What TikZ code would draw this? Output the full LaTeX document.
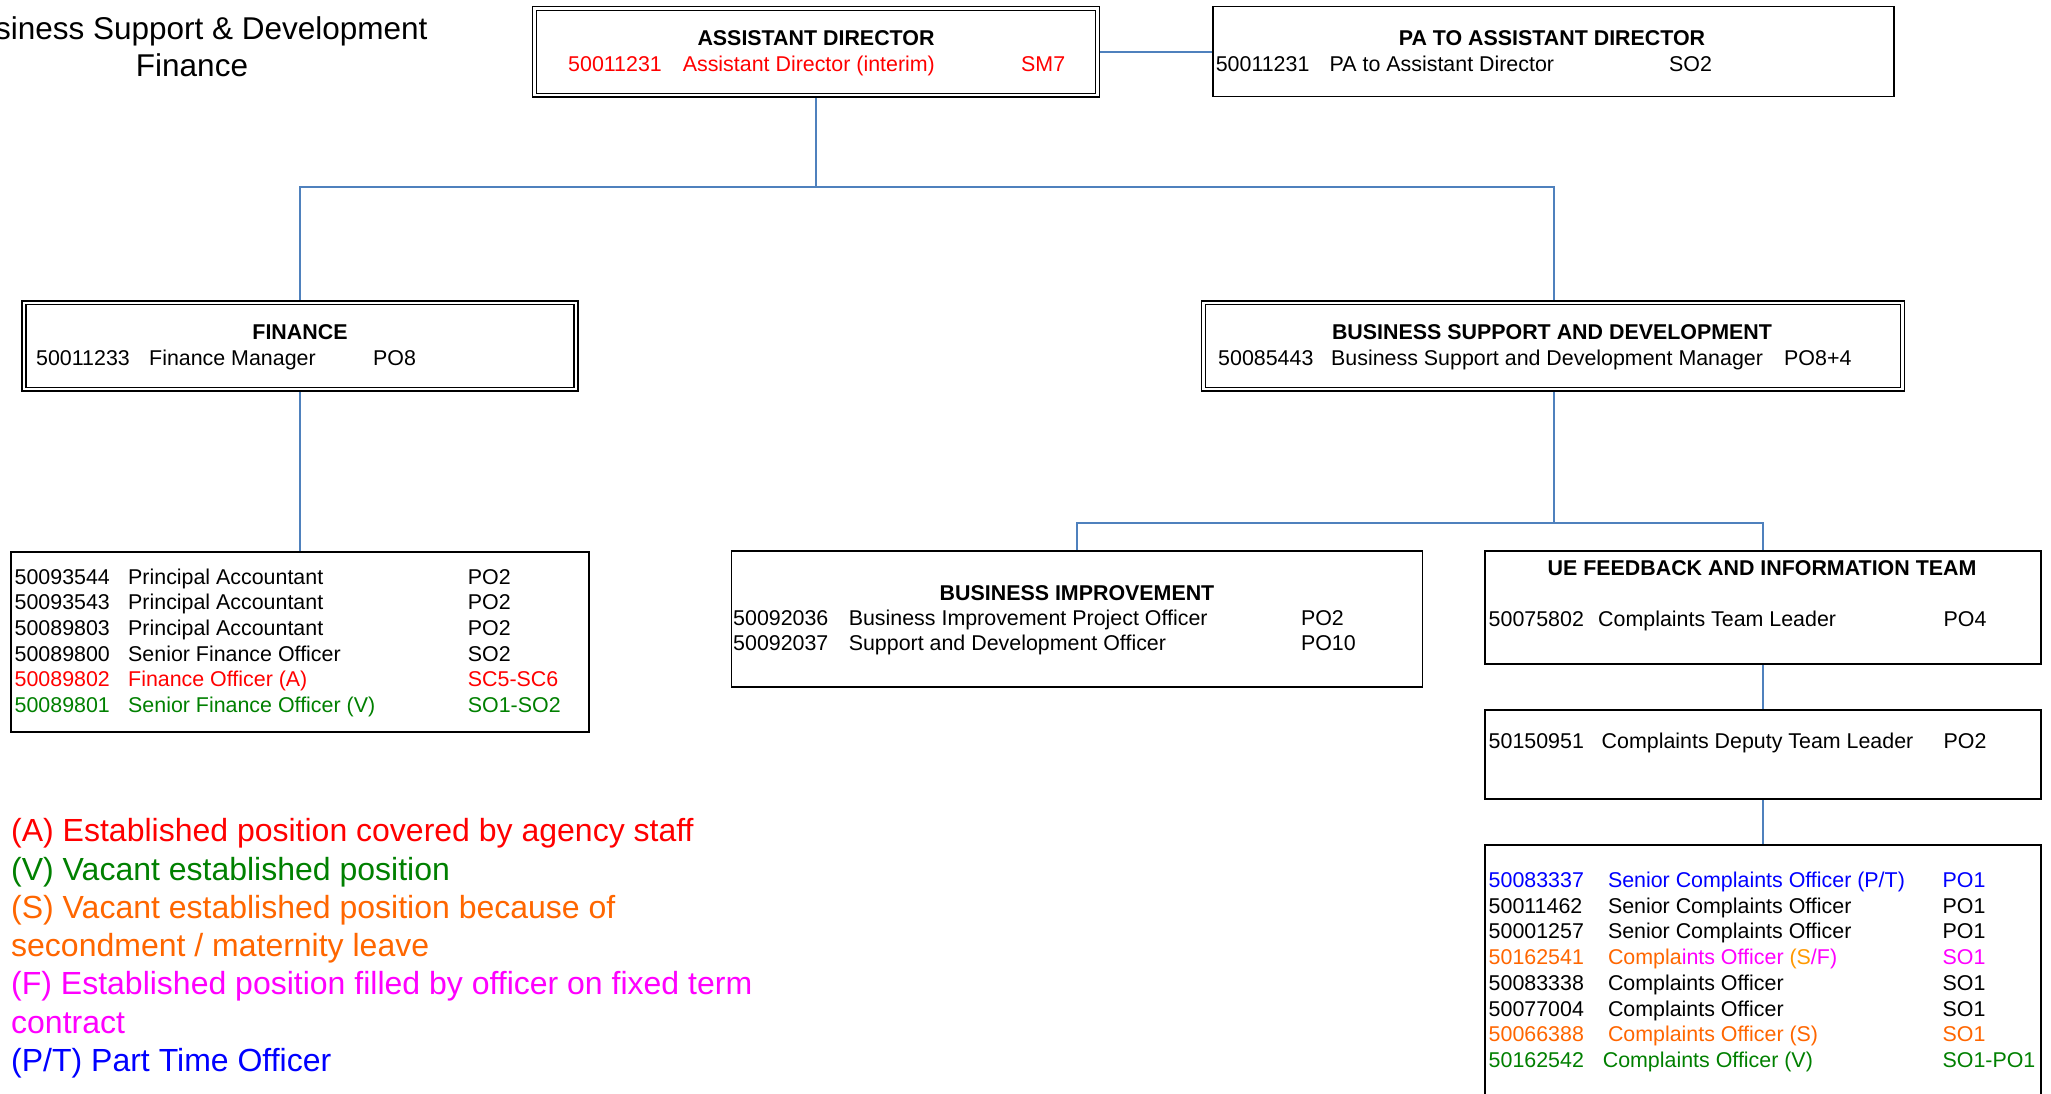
\documentclass[tikz,border=0pt]{standalone}
\usepackage{fontspec}
\setmainfont{Liberation Sans}
\definecolor{linkblue}{RGB}{79,129,189}
\definecolor{agred}{RGB}{255,0,0}
\definecolor{vgreen}{RGB}{0,128,0}
\definecolor{sorange}{RGB}{255,102,0}
\definecolor{lorange}{RGB}{255,153,0}
\definecolor{fmag}{RGB}{255,0,255}
\definecolor{ptblue}{RGB}{0,0,255}
\newcommand{\orgbody}{\fontsize{21.4}{25.7}\selectfont}
\newcommand{\orglegend}{\fontsize{32}{38.3}\selectfont}
\newcommand{\orgtitle}{\fontsize{31.5}{36.5}\selectfont}
\newcommand{\orgrow}[9]{%
  \node[txt,#2] (#1a) at (#3,#4) {#7};
  \node[txt,#2] (#1b) at (#5,#4) {#8};
  \node[txt,#2] (#1c) at (#6,#4) {#9};}
\begin{document}
\begin{tikzpicture}[x=1pt,y=-1pt,
  box/.style={draw=black, line width=1.8pt, inner sep=0pt, fill=white},
  txt/.style={anchor=base west, inner sep=0pt, font=\orgbody},
  head/.style={anchor=base, inner sep=0pt, font=\orgbody\bfseries},
  leg/.style={anchor=base west, inner sep=0pt, font=\orglegend},
  link/.style={draw=linkblue, line width=1.6pt}]
\useasboundingbox (0,0) rectangle (2051,1093);
\clip (0,0) rectangle (2051,1093);

% title
\node[anchor=base, inner sep=0pt, font=\orgtitle] (t1) at (192,39.5) {Business Support \& Development};
\node[anchor=base, inner sep=0pt, font=\orgtitle] (t2) at (192,76) {Finance};

% connectors (drawn first)
\coordinate (j1) at (816,187);
\coordinate (j2) at (1554,522.7);
\coordinate (finx) at (300,0);
\coordinate (bsdx) at (1554,0);
\coordinate (bix) at (1077,0);
\coordinate (uex) at (1762.7,0);
\draw[link] (816,97) -- (j1);
\draw[link] (finx |- 301,301) -- (finx |- j1) -- (bsdx |- j1) -- (bsdx |- 301,301);
\draw[link] (1100,51.7) -- (1213,51.7);
\draw[link] (finx |- 391,391) -- (finx |- 551.7,551.7);
\draw[link] (bsdx |- 391,391) -- (j2);
\draw[link] (bix |- 550.7,550.7) -- (bix |- j2) -- (uex |- j2) -- (uex |- 550.7,550.7);
\draw[link] (uex |- 664,664) -- (uex |- 710,710);
\draw[link] (uex |- 799,799) -- (uex |- 845,845);

% boxes
\node[box, minimum width=567pt, minimum height=90.5pt] (ad) at (816,51.8) {};
\draw[line width=1.3pt] ([shift={(5,4.5)}]ad.north west) rectangle ([shift={(-5,-4.5)}]ad.south east);
\node[box, minimum width=681pt, minimum height=90pt] (pa) at (1553.5,51.5) {};
\node[box, minimum width=556pt, minimum height=90pt] (fin) at (300,346) {};
\draw[line width=1.3pt] ([shift={(5,4.5)}]fin.north west) rectangle ([shift={(-5,-4.5)}]fin.south east);
\node[box, minimum width=703pt, minimum height=90pt] (bsd) at (1553,346) {};
\draw[line width=1.3pt] ([shift={(5,4.5)}]bsd.north west) rectangle ([shift={(-5,-4.5)}]bsd.south east);
\node[box, minimum width=578pt, minimum height=180pt] (finst) at (300,641.7) {};
\node[box, minimum width=691pt, minimum height=136pt] (bi) at (1077,618.7) {};
\node[box, minimum width=555.6pt, minimum height=113.3pt] (ue) at (1762.8,607.4) {};
\node[box, minimum width=555.6pt, minimum height=89.3pt] (dep) at (1762.8,754.7) {};
\node[box, minimum width=555.6pt, minimum height=290pt] (cst) at (1762.8,990) {};

% assistant director
\node[head] (adh) at (816,45) {ASSISTANT DIRECTOR};
\orgrow{ad}{agred}{568}{71.7}{682.6}{1021}{50011231}{Assistant Director (interim)}{SM7}
% PA
\node[head] (pah) at (1552,45) {PA TO ASSISTANT DIRECTOR};
\orgrow{pa}{black}{1215.6}{71.7}{1329.5}{1669}{50011231}{PA to Assistant Director}{SO2}
% finance
\node[head] (finh) at (300,339.3) {FINANCE};
\orgrow{fin}{black}{36}{365}{149}{373}{50011233}{Finance Manager}{PO8}
% BSD
\node[head] (bsdh) at (1552,339.3) {BUSINESS SUPPORT AND DEVELOPMENT};
\orgrow{bsd}{black}{1218}{365}{1331}{1784}{50085443}{Business Support and Development Manager}{PO8+4}

% finance staff
\orgrow{fa}{black}{14.5}{584}{128}{467.7}{50093544}{Principal Accountant}{PO2}
\orgrow{fb}{black}{14.5}{609.7}{128}{467.7}{50093543}{Principal Accountant}{PO2}
\orgrow{fc}{black}{14.5}{635.3}{128}{467.7}{50089803}{Principal Accountant}{PO2}
\orgrow{fd}{black}{14.5}{661}{128}{467.7}{50089800}{Senior Finance Officer}{SO2}
\orgrow{fe}{agred}{14.5}{686.7}{128}{467.7}{50089802}{Finance Officer (A)}{SC5-SC6}
\orgrow{ff}{vgreen}{14.5}{712.3}{128}{467.7}{50089801}{Senior Finance Officer (V)}{SO1-SO2}

% business improvement
\node[head] (bih) at (1077,600) {BUSINESS IMPROVEMENT};
\orgrow{bia}{black}{733}{625}{848.6}{1300.8}{50092036}{Business Improvement Project Officer}{PO2}
\orgrow{bib}{black}{733}{650}{848.6}{1300.8}{50092037}{Support and Development Officer}{PO10}

% UE feedback
\node[head] (ueh) at (1762,575) {UE FEEDBACK AND INFORMATION TEAM};
\orgrow{uea}{black}{1488.5}{626.7}{1598}{1943.5}{50075802}{Complaints Team Leader}{PO4}
\orgrow{depa}{black}{1488.5}{748.5}{1601.5}{1943.5}{50150951}{Complaints Deputy Team Leader}{PO2}

% complaints staff
\orgrow{ca}{ptblue}{1488.5}{887.5}{1607.8}{1942.4}{50083337}{Senior Complaints Officer (P/T)}{PO1}
\orgrow{cb}{black}{1488.5}{913.2}{1607.8}{1942.4}{50011462}{Senior Complaints Officer}{PO1}
\orgrow{cc}{black}{1488.5}{938.9}{1607.8}{1942.4}{50001257}{Senior Complaints Officer}{PO1}
\orgrow{cd}{black}{1488.5}{964.6}{1607.8}{1942.4}{\textcolor{sorange}{50162541}}{\textcolor{sorange}{Compla}\textcolor{fmag}{ints Officer }\textcolor{lorange}{(S}\textcolor{fmag}{/F)}}{\textcolor{fmag}{SO1}}
\orgrow{ce}{black}{1488.5}{990.3}{1607.8}{1942.4}{50083338}{Complaints Officer}{SO1}
\orgrow{cf}{black}{1488.5}{1016}{1607.8}{1942.4}{50077004}{Complaints Officer}{SO1}
\orgrow{cg}{sorange}{1488.5}{1041.7}{1607.8}{1942.4}{50066388}{Complaints Officer (S)}{SO1}
\orgrow{ch}{vgreen}{1488.5}{1067.4}{1602.6}{1942.4}{50162542}{Complaints Officer (V)}{SO1-PO1}

% legend
\node[leg, agred] (la) at (11,841.7) {(A) Established position covered by agency staff};
\node[leg, vgreen] (lv) at (11,880) {(V) Vacant established position};
\node[leg, sorange] (ls1) at (11,918.3) {(S) Vacant established position because of};
\node[leg, sorange] (ls2) at (11,956.6) {secondment / maternity leave};
\node[leg, fmag] (lf1) at (11,994.9) {(F) Established position filled by officer on fixed term};
\node[leg, fmag] (lf2) at (11,1033.2) {contract};
\node[leg, ptblue] (lp) at (11,1071.5) {(P/T) Part Time Officer};
\end{tikzpicture}
\end{document}
